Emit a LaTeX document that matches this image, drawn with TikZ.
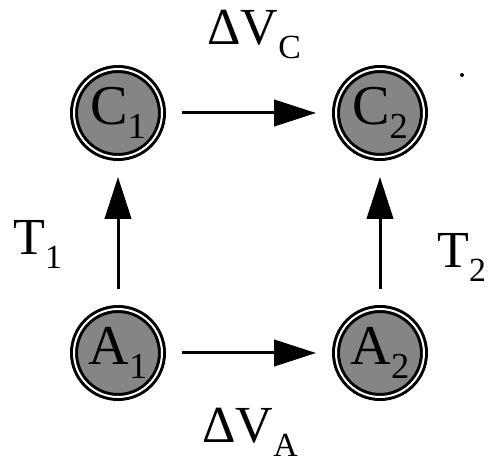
\documentclass[tikz,border=0pt]{standalone}
\usepackage{fontspec}
\setmainfont{Liberation Serif}
\usetikzlibrary{arrows.meta}
\newcommand{\lowsub}[1]{\raisebox{-0.25em}{\scalebox{0.65}{#1}}}

\begin{document}
\begin{tikzpicture}[
    state/.style={circle,draw,line width=0.075cm,double=white,double distance=0.05cm,
      fill=black!48,minimum size=2.2cm,inner sep=0pt,outer sep=0.5cm,
      font=\fontsize{40}{40}\selectfont},
    flow/.style={-{Triangle[length=1.05cm,width=0.66cm]},line width=0.075cm},
    lbl/.style={font=\fontsize{37}{37}\selectfont,inner sep=0pt}]
    \useasboundingbox (0,0) rectangle (12.2,11.625);
    \node[state] (C1) at (2.95,8.8) {C\lowsub{1}};
    \node[state] (C2) at (9.5,8.8) {C\lowsub{2}};
    \node[state] (A1) at (2.95,2.8) {A\lowsub{1}};
    \node[state] (A2) at (9.5,2.8) {A\lowsub{2}};
    \draw[flow] (C1) -- (C2);
    \draw[flow] (A1) -- (A2);
    \draw[flow] (A1) -- (C1);
    \draw[flow] (A2) -- (C2);
    \node[lbl,anchor=base west] (dVC) at (5.175,10.5) {ΔV\lowsub{C}};
    \node[lbl,anchor=base west] (dVA) at (5.05,0.55) {ΔV\lowsub{A}};
    \node[lbl,anchor=base west] (T1) at (0.325,5.25) {T\lowsub{1}};
    \node[lbl,anchor=base west] (T2) at (10.925,4.925) {T\lowsub{2}};
    \fill (11.55,9.75) circle (0.05);
\end{tikzpicture}
\end{document}
